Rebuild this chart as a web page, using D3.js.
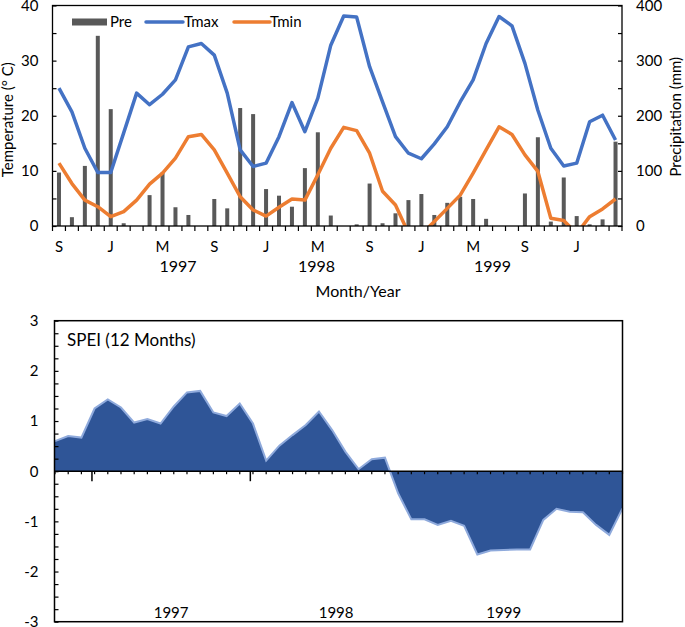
<!DOCTYPE html>
<html>
<head>
<meta charset="utf-8">
<script src="https://cdn.jsdelivr.net/npm/d3@7"></script>
<style>
  body { margin: 0; background: #fff; }
  svg text { font-family: Lato, "Open Sans", sans-serif; fill: #000; }
</style>
</head>
<body>
<div id="chart"></div>
<script>
// monthly series, Sep 1996 .. Apr 2000
const pre  = [97, 16, 109, 345, 212, 5, 0, 56, 97, 34, 20, 0, 49, 32, 214, 203, 67, 55, 35, 105, 170, 19, 0, 3,
              77, 5, 23, 47, 58, 20, 42, 53, 49, 13, 0, 0, 59, 161, 8, 88, 18, 3, 12, 153];
const tmax = [25.0, 20.7, 14.1, 9.7, 9.7, 16.9, 24.1, 22.0, 23.9, 26.5, 32.5, 33.1, 31.0, 24.1,
              13.8, 10.8, 11.4, 16.2, 22.4, 17.1, 23.2, 32.8, 38.1, 37.9, 28.9, 22.5, 16.2, 13.2, 12.2, 14.9,
              18.0, 22.5, 26.5, 33.1, 38.0, 36.3, 29.5, 21.0, 14.1, 10.9, 11.4, 18.9, 20.1, 15.6];
const tmin = [11.4, 7.7, 4.7, 3.5, 1.7, 2.6, 4.7, 7.6, 9.6, 12.3, 16.2, 16.6, 13.8, 9.6,
              5.3, 2.9, 1.8, 3.4, 4.9, 4.7, 9.3, 14.1, 17.9, 17.3, 13.2, 6.3, 3.8, -1.3, -1.5, 0.8,
              3.2, 5.6, 9.6, 13.8, 18.0, 16.6, 12.9, 9.9, 1.4, 1.0, -1.4, 1.7, 3.1, 4.9];
const spei = [0.60, 0.70, 0.67, 1.25, 1.43, 1.27, 0.97, 1.04, 0.95, 1.29, 1.57, 1.60, 1.17, 1.10, 1.35,
              0.95, 0.21, 0.51, 0.72, 0.92, 1.19, 0.82, 0.39, 0.04, 0.24, 0.27, -0.44, -0.96, -0.96, -1.07,
              -0.99, -1.09, -1.66, -1.58, -1.57, -1.56, -1.56, -0.97, -0.75, -0.81, -0.82, -1.07, -1.27, -0.74];

// tick labels
const monthTicks = ['S', 'J', 'M', 'S', 'J', 'M', 'S', 'J', 'M', 'S', 'J'];   // every 4th month
const years = ['1997', '1998', '1999'];
const topYearPos = [9.7, 20.4, 34.0];      // in month-index units
const botYearPos = [8.8, 21.3, 34.0];
const yearBreaks = [2.8, 14.8];            // long ticks on the SPEI zero line

const [width, height] = [685, 627];
const svg = d3.select('#chart').append('svg')
    .attr('width', width)
    .attr('height', height);

// ---------- top panel: climate ----------
const tp = { l: 52.5, r: 622, t: 5.5, b: 226 };
const xTop = d3.scaleBand().domain(d3.range(pre.length)).range([tp.l, tp.r]);
const yT = d3.scaleLinear().domain([0, 40]).range([tp.b, tp.t]);
const yP = d3.scaleLinear().domain([0, 400]).range([tp.b, tp.t]);
const cx = i => xTop(i) + xTop.bandwidth() / 2;

svg.append('defs').append('clipPath').attr('id', 'clipTop')
    .append('rect')
    .attr('x', tp.l).attr('y', tp.t)
    .attr('width', tp.r - tp.l).attr('height', tp.b - tp.t);

// bars
svg.append('g')
    .selectAll('rect')
    .data(pre)
    .enter()
    .append('rect')
    .attr('x', (d, i) => cx(i) - 2)
    .attr('width', 4)
    .attr('y', d => yP(d))
    .attr('height', d => tp.b - yP(d))
    .attr('fill', '#595959');

// temperature lines (clipped at 0 like the original)
const lineT = d3.line().x((d, i) => cx(i)).y(d => yT(d));
const lines = svg.append('g').attr('clip-path', 'url(#clipTop)');
lines.append('path').datum(tmin)
    .attr('d', lineT).attr('fill', 'none')
    .attr('stroke', '#ED7D31').attr('stroke-width', 3.5).attr('stroke-linejoin', 'round');
lines.append('path').datum(tmax)
    .attr('d', lineT).attr('fill', 'none')
    .attr('stroke', '#4472C4').attr('stroke-width', 3.5).attr('stroke-linejoin', 'round');

// frame
svg.append('rect')
    .attr('x', tp.l).attr('y', tp.t)
    .attr('width', tp.r - tp.l).attr('height', tp.b - tp.t)
    .attr('fill', 'none').attr('stroke', '#000').attr('stroke-width', 1.3);

// left axis (ticks inward)
const leftAxis = svg.append('g')
    .attr('transform', `translate(${tp.l},0)`)
    .call(d3.axisLeft(yT).tickValues(d3.range(0, 41, 5)).tickSize(-4).tickPadding(14)
        .tickFormat(d => d % 10 === 0 ? String(d) : ''));
leftAxis.select('.domain').remove();
leftAxis.selectAll('line').attr('stroke', '#000').attr('stroke-width', 1.2);
leftAxis.selectAll('text').attr('font-size', 15).style('font-family', 'Lato, sans-serif');

// right axis
const rightAxis = svg.append('g')
    .attr('transform', `translate(${tp.r},0)`)
    .call(d3.axisRight(yP).tickValues(d3.range(0, 401, 50)).tickSize(-4).tickPadding(14)
        .tickFormat(d => d % 100 === 0 ? String(d) : ''));
rightAxis.select('.domain').remove();
rightAxis.selectAll('line').attr('stroke', '#000').attr('stroke-width', 1.2);
rightAxis.selectAll('text').attr('font-size', 15).style('font-family', 'Lato, sans-serif');

// x ticks at month boundaries
svg.append('g')
    .selectAll('line')
    .data(d3.range(pre.length + 1))
    .enter()
    .append('line')
    .attr('x1', i => tp.l + i * xTop.step())
    .attr('x2', i => tp.l + i * xTop.step())
    .attr('y1', tp.b).attr('y2', tp.b + 5)
    .attr('stroke', '#000').attr('stroke-width', 1.2);

svg.append('g')
    .selectAll('text')
    .data(monthTicks)
    .enter()
    .append('text')
    .attr('x', (d, i) => cx(i * 4))
    .attr('y', 252)
    .attr('text-anchor', 'middle')
    .attr('font-size', 15)
    .text(d => d);

svg.append('g')
    .selectAll('text')
    .data(years)
    .enter()
    .append('text')
    .attr('x', (d, i) => tp.l + topYearPos[i] * xTop.step())
    .attr('y', 272)
    .attr('text-anchor', 'middle')
    .attr('font-size', 16)
    .text(d => d);

svg.append('text')
    .attr('x', 358).attr('y', 297)
    .attr('text-anchor', 'middle')
    .attr('font-size', 16)
    .text('Month/Year');

svg.append('text')
    .attr('transform', `translate(13,${(tp.t + tp.b) / 2 + 4}) rotate(-90)`)
    .attr('text-anchor', 'middle')
    .attr('font-size', 15)
    .text('Temperature (° C)');

svg.append('text')
    .attr('transform', `translate(681,${(tp.t + tp.b) / 2 + 1}) rotate(-90)`)
    .attr('text-anchor', 'middle')
    .attr('font-size', 15)
    .text('Precipitation (mm)');

// legend
const lg = svg.append('g').attr('font-size', 15);
lg.append('rect').attr('x', 72).attr('y', 18.5).attr('width', 35).attr('height', 7).attr('fill', '#595959');
lg.append('text').attr('x', 110).attr('y', 27).text('Pre');
lg.append('line').attr('x1', 146).attr('x2', 183).attr('y1', 22).attr('y2', 22)
    .attr('stroke', '#4472C4').attr('stroke-width', 3.5).attr('stroke-linecap', 'round');
lg.append('text').attr('x', 184).attr('y', 27).text('Tmax');
lg.append('line').attr('x1', 234).attr('x2', 270).attr('y1', 22).attr('y2', 22)
    .attr('stroke', '#ED7D31').attr('stroke-width', 3.5).attr('stroke-linecap', 'round');
lg.append('text').attr('x', 270).attr('y', 27).text('Tmin');

// ---------- bottom panel: SPEI ----------
const bot = { l: 54.5, r: 622.5, t: 320.7, b: 621.7 };
const xS = d3.scaleLinear().domain([0, spei.length - 1]).range([bot.l + 0.5, bot.r]);
const yS = d3.scaleLinear().domain([-3, 3]).range([bot.b, bot.t]);

svg.append('path').datum(spei)
    .attr('d', d3.area().x((d, i) => xS(i)).y0(yS(0)).y1(d => yS(d)))
    .attr('fill', '#2F5597');
svg.append('path').datum(spei)
    .attr('d', d3.line().x((d, i) => xS(i)).y(d => yS(d)))
    .attr('fill', 'none').attr('stroke', '#8FAADC').attr('stroke-width', 2);

svg.append('rect')
    .attr('x', bot.l).attr('y', bot.t)
    .attr('width', bot.r - bot.l).attr('height', bot.b - bot.t)
    .attr('fill', 'none').attr('stroke', '#000').attr('stroke-width', 1.5);

const spAxis = svg.append('g')
    .attr('transform', `translate(${bot.l},0)`)
    .call(d3.axisLeft(yS).tickValues(d3.range(-3, 3.01, 0.25)).tickSize(-4).tickPadding(16)
        .tickFormat(d => Number.isInteger(d) ? String(d) : ''));
spAxis.select('.domain').remove();
spAxis.selectAll('line').attr('stroke', '#000').attr('stroke-width', 1.2);
spAxis.selectAll('text').attr('font-size', 15).style('font-family', 'Lato, sans-serif');

// zero line with monthly ticks
svg.append('line')
    .attr('x1', bot.l).attr('x2', bot.r)
    .attr('y1', yS(0)).attr('y2', yS(0))
    .attr('stroke', '#000').attr('stroke-width', 1.5);
svg.append('g')
    .selectAll('line')
    .data(d3.range(spei.length))
    .enter()
    .append('line')
    .attr('x1', i => xS(i)).attr('x2', i => xS(i))
    .attr('y1', yS(0)).attr('y2', yS(0) + 3)
    .attr('stroke', '#000').attr('stroke-width', 1.2);
svg.append('g')
    .selectAll('line')
    .data(yearBreaks)
    .enter()
    .append('line')
    .attr('x1', d => xS(d)).attr('x2', d => xS(d))
    .attr('y1', yS(0)).attr('y2', yS(0) + 10)
    .attr('stroke', '#000').attr('stroke-width', 1.5);

svg.append('g')
    .selectAll('text')
    .data(years)
    .enter()
    .append('text')
    .attr('x', (d, i) => xS(botYearPos[i]))
    .attr('y', 618)
    .attr('text-anchor', 'middle')
    .attr('font-size', 15)
    .text(d => d);

svg.append('text')
    .attr('x', 67).attr('y', 346)
    .attr('font-size', 17)
    .text('SPEI (12 Months)');
</script>
</body>
</html>
